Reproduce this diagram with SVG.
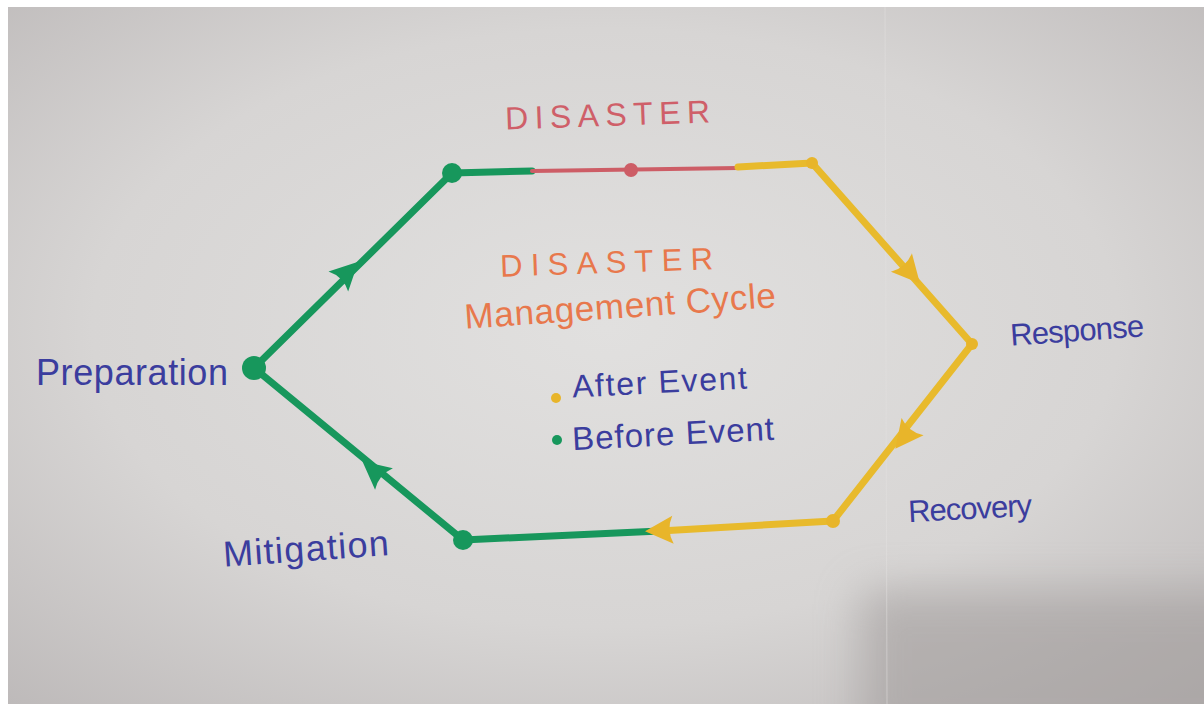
<svg xmlns="http://www.w3.org/2000/svg" xmlns:xlink="http://www.w3.org/1999/xlink" width="1204" height="704" viewBox="0 0 1204 704">
  <defs>
    <radialGradient id="paper" cx="0.5" cy="0.46" r="0.78">
      <stop offset="0" stop-color="#e1e0df"/>
      <stop offset="0.55" stop-color="#d7d5d4"/>
      <stop offset="1" stop-color="#bab6b6"/>
    </radialGradient>
    <filter id="soft" x="-50%" y="-50%" width="200%" height="200%">
      <feGaussianBlur stdDeviation="22"/>
    </filter>
    <!-- arrowhead drawn with its tip at the origin, pointing along +x -->
    <path id="head" d="M6,0 L-22,-14 Q-15,0 -22,14 Z"/>
    <style>
      .ink { font-family: "Liberation Sans", "DejaVu Sans", sans-serif; }
      .blue { fill: #3b3d9e; }
      .red { fill: #cf5f69; }
      .orange { fill: #e8784c; }
      .seg { fill: none; stroke-width: 7; stroke-linecap: round; stroke-linejoin: round; }
      .green { stroke: #17975c; }
      .yellow { stroke: #e8ba2c; }
      .redline { stroke: #cd5d66; stroke-width: 4; }
      .hg { fill: #17975c; }
      .hy { fill: #e8b52a; }
    </style>
  </defs>

  <!-- sheet of paper on a white margin -->
  <rect x="0" y="0" width="1204" height="704" fill="#ffffff"/>
  <svg x="8" y="7" width="1196" height="697" viewBox="8 7 1196 697">
    <rect x="8" y="7" width="1196" height="697" fill="url(#paper)"/>
    <rect x="860" y="590" width="420" height="160" fill="#9e9998" opacity="0.55" filter="url(#soft)"/>
    <line x1="885" y1="7" x2="887" y2="704" stroke="#e3e1e0" stroke-width="1" opacity="0.5"/>
  </svg>

  <!-- connectors: the hexagonal cycle -->
  <g id="connectors">
    <polyline class="seg green" points="532,171 452,173 254,368 463,540 660,531"/>
    <line class="seg redline" x1="532" y1="171" x2="738" y2="168"/>
    <polyline class="seg yellow" points="738,167 812,163 972,344 833,521 660,531"/>
    <use xlink:href="#head" class="hg" transform="translate(354,266) rotate(-44.6)"/>
    <use xlink:href="#head" class="hy" transform="translate(916,279) rotate(48.5)"/>
    <use xlink:href="#head" class="hy" transform="translate(899,444) rotate(128.1)"/>
    <use xlink:href="#head" class="hy" transform="translate(651,531) rotate(177)"/>
    <use xlink:href="#head" class="hg" transform="translate(367,465) rotate(-140.5)"/>
    <circle cx="452" cy="173" r="10" class="hg"/>
    <circle cx="254" cy="368" r="12" class="hg"/>
    <circle cx="463" cy="540" r="10" class="hg"/>
    <circle cx="631" cy="170" r="7" fill="#cd5d66"/>
    <circle cx="812" cy="163" r="6" class="hy"/>
    <circle cx="972" cy="344" r="6" class="hy"/>
    <circle cx="833" cy="521" r="7" class="hy"/>
  </g>

  <!-- event at the top of the cycle -->
  <g id="disaster">
    <text class="ink red" x="505" y="126" font-size="32" textLength="205" transform="rotate(-2 608 114)">DISASTER</text>
  </g>

  <!-- title in the middle -->
  <g id="title">
    <text class="ink orange" x="500" y="273" font-size="31" textLength="213" transform="rotate(-2 606 260)">DISASTER</text>
    <text class="ink orange" x="464" y="318" font-size="35" textLength="312" transform="rotate(-4 620 305)">Management Cycle</text>
  </g>

  <!-- legend -->
  <g id="legend">
    <circle cx="556" cy="398" r="5" class="hy"/>
    <text class="ink blue" x="572" y="393" font-size="32" textLength="175" transform="rotate(-3 660 383)">After Event</text>
    <circle cx="557" cy="440" r="5" class="hg"/>
    <text class="ink blue" x="572" y="445" font-size="33" textLength="202" transform="rotate(-3 672 433)">Before Event</text>
  </g>

  <!-- phases -->
  <g id="preparation">
    <text class="ink blue" x="36" y="385" font-size="36" textLength="192">Preparation</text>
  </g>
  <g id="response">
    <text class="ink blue" x="1010" y="341" font-size="31" textLength="134" transform="rotate(-4 1077 330)">Response</text>
  </g>
  <g id="recovery">
    <text class="ink blue" x="908" y="519" font-size="31" textLength="124" transform="rotate(-3 970 508)">Recovery</text>
  </g>
  <g id="mitigation">
    <text class="ink blue" x="223" y="561" font-size="36" textLength="166" transform="rotate(-4 306 550)">Mitigation</text>
  </g>
</svg>
